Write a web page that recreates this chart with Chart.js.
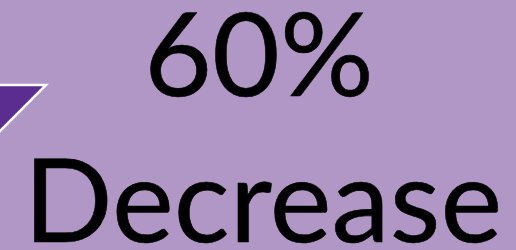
<!DOCTYPE html>
<html>
<head>
<meta charset="utf-8">
<script src="https://cdn.jsdelivr.net/npm/chart.js@4"></script>
<style>
html,body{margin:0;padding:0;background:#b097c6;overflow:hidden;}
#wrap{width:516px;height:250px;position:relative;}
</style>
</head>
<body>
<div id="wrap"><canvas id="c" width="516" height="250"></canvas></div>
<script>
// Headline figures
const changeValue = ["60%"];
const changeLabel = ["Decrease"];
// Decorative down-arrow (triangle) vertices in chart units
const arrowX = [-60, 46, -8, -60];
const arrowY = [85, 85, 139, 85];

const arrowData = arrowX.map((x, i) => ({x: x, y: arrowY[i]}));

const textPlugin = {
  id: 'headline',
  afterDraw(chart) {
    const ctx = chart.ctx;
    ctx.save();
    ctx.fillStyle = '#000000';
    ctx.strokeStyle = '#000000';
    ctx.lineWidth = 0.6;
    ctx.lineJoin = 'round';
    ctx.textAlign = 'center';
    ctx.textBaseline = 'alphabetic';
    ctx.font = '117px Lato';
    ctx.fillText(changeValue[0], 259, 96);
    ctx.strokeText(changeValue[0], 259, 96);
    ctx.fillText(changeLabel[0], 263, 242);
    ctx.strokeText(changeLabel[0], 263, 242);
    ctx.restore();
  }
};

new Chart(document.getElementById('c'), {
  type: 'line',
  data: {
    datasets: [{
      data: arrowData,
      fill: 'shape',
      backgroundColor: '#5c2d91',
      borderColor: '#ffffff',
      borderWidth: 2.5,
      pointRadius: 0,
      tension: 0
    }]
  },
  options: {
    responsive: false,
    animation: false,
    layout: {padding: 0},
    plugins: {legend: {display: false}, tooltip: {enabled: false}},
    scales: {
      x: {type: 'linear', min: 0, max: 516, display: false},
      y: {type: 'linear', min: 0, max: 250, reverse: true, display: false}
    }
  },
  plugins: [textPlugin]
});
</script>
</body>
</html>
